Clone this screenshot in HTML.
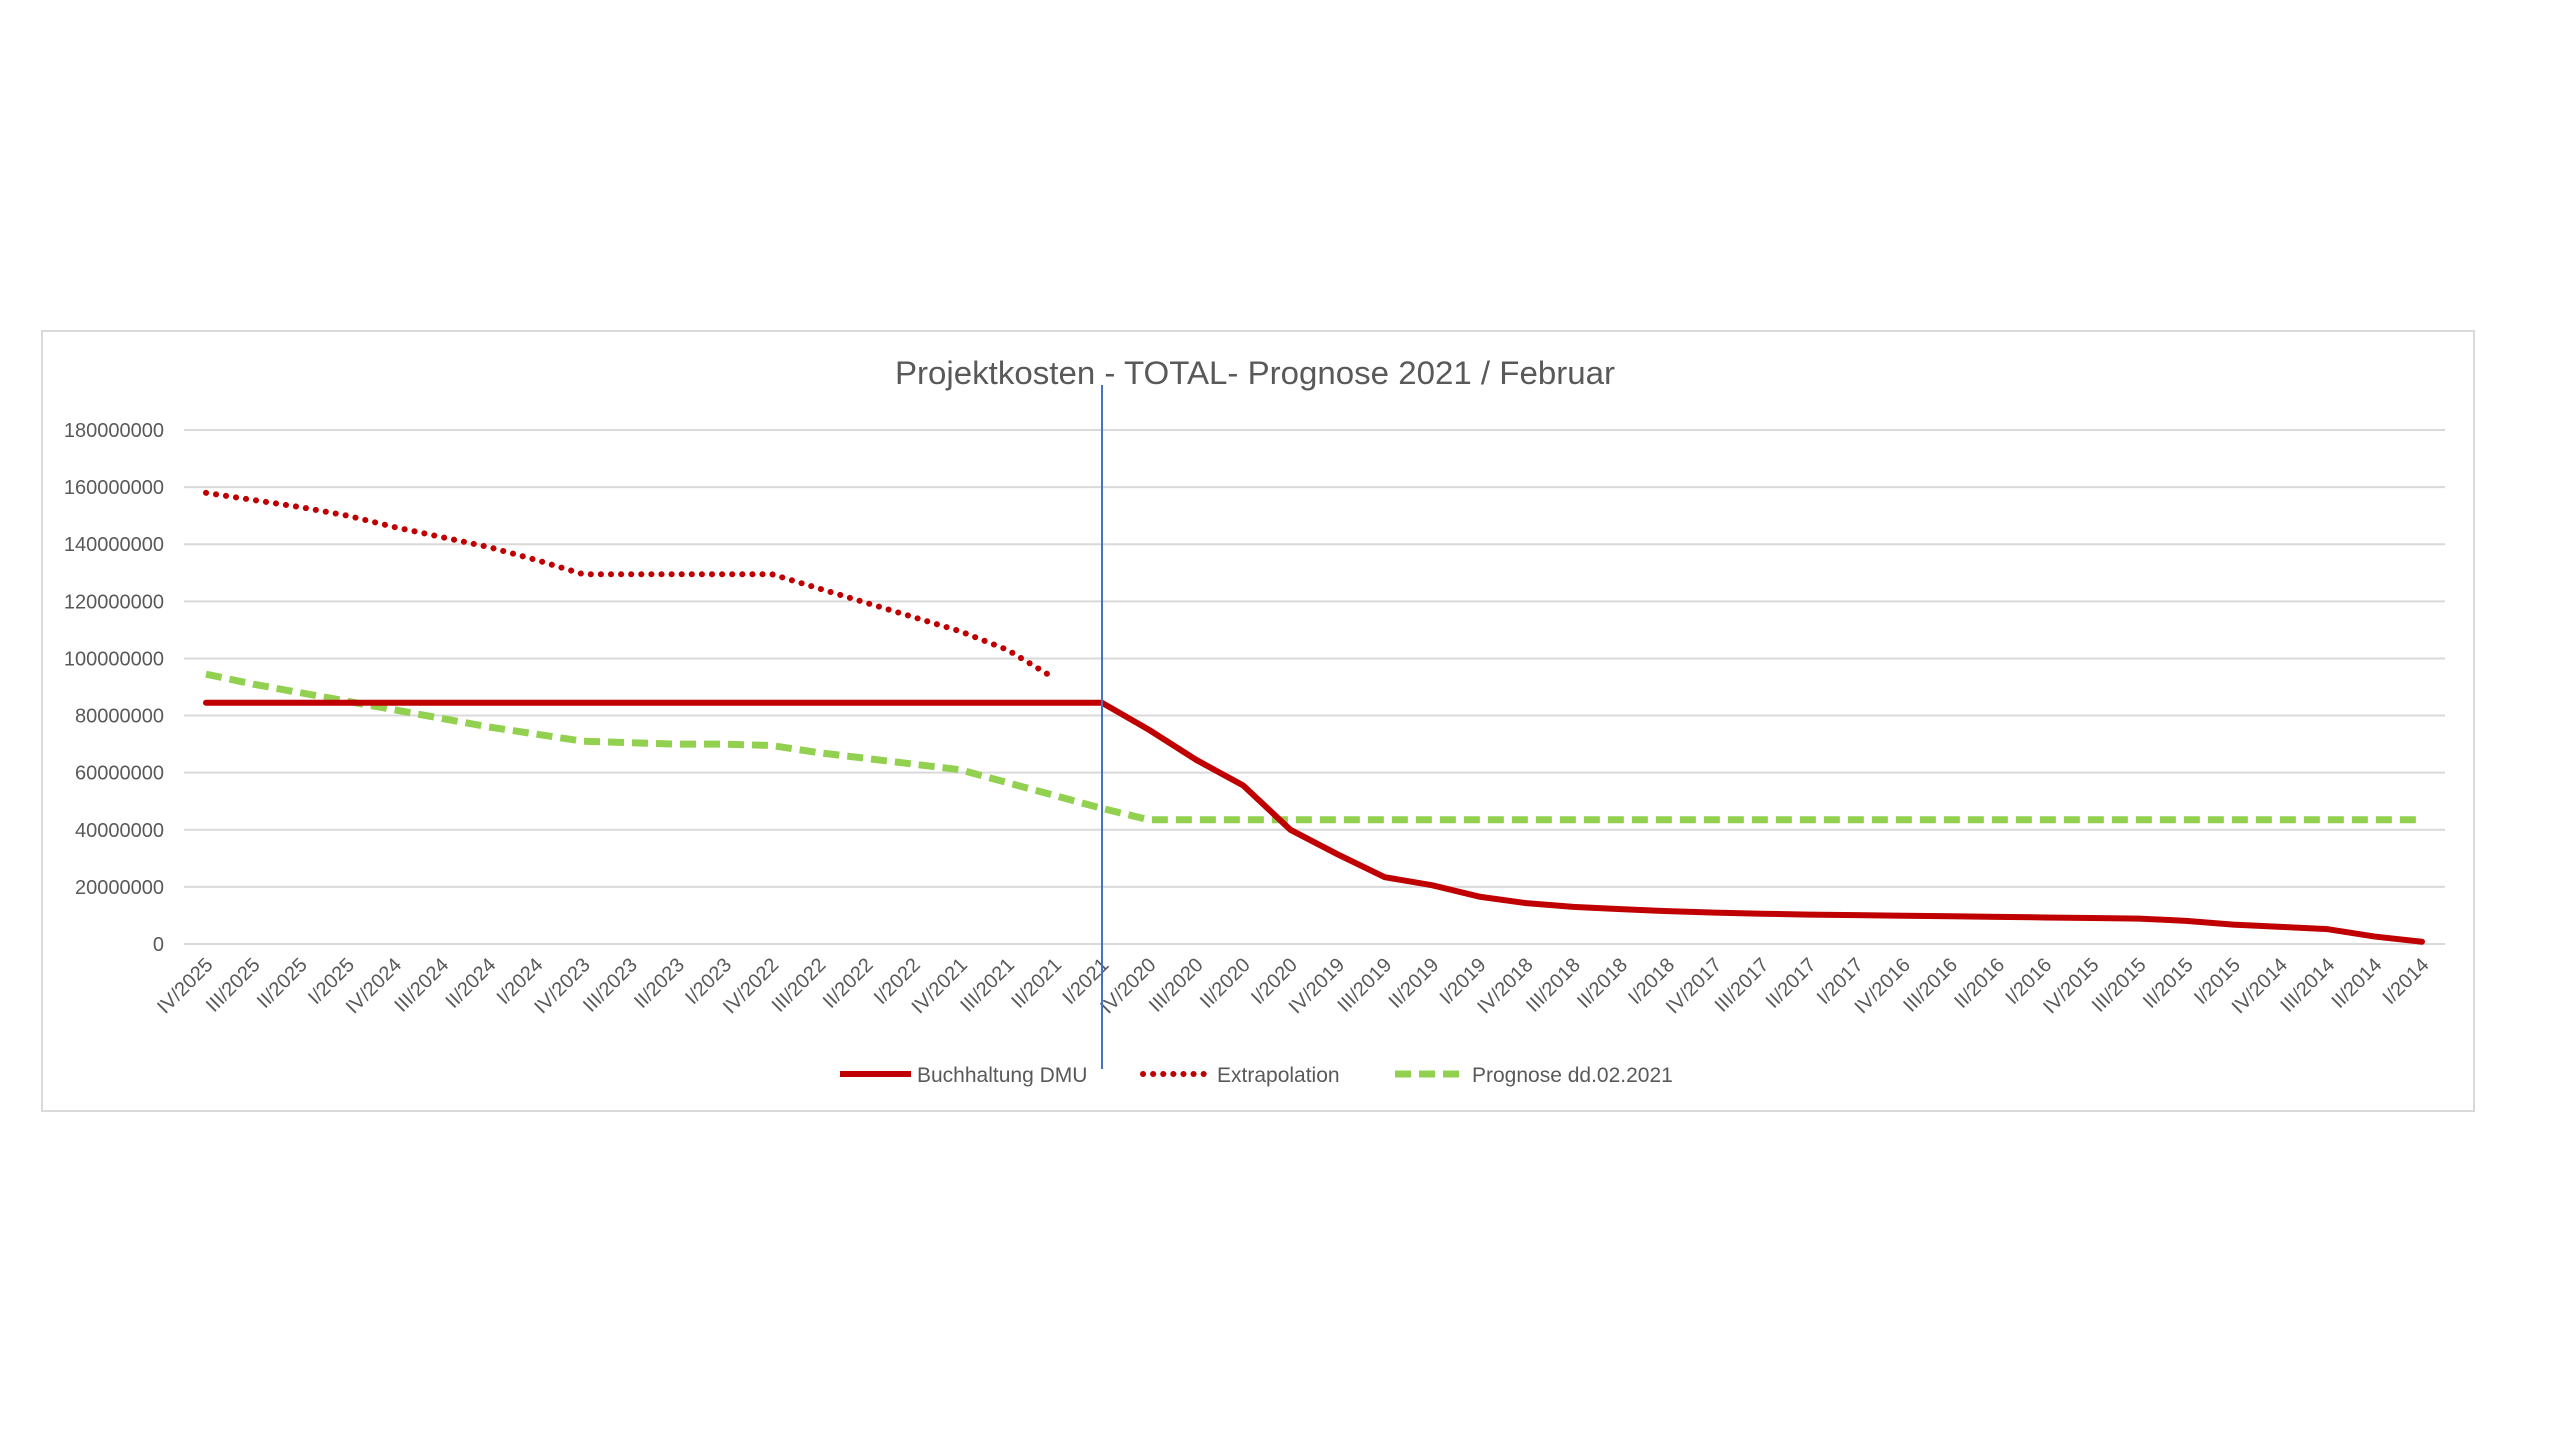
<!DOCTYPE html>
<html><head><meta charset="utf-8"><style>
html,body{margin:0;padding:0;background:#fff;}
svg{display:block;font-family:"Liberation Sans",Arial,sans-serif;}
</style></head><body>
<svg id="chart" width="2560" height="1440" viewBox="0 0 2560 1440" xmlns="http://www.w3.org/2000/svg">
<rect x="42" y="331" width="2432" height="780" fill="#fff" stroke="#d9d9d9" stroke-width="2"/>
<text x="1255" y="384" text-anchor="middle" font-size="32" fill="#595959" textLength="720" lengthAdjust="spacingAndGlyphs">Projektkosten - TOTAL- Prognose 2021 / Februar</text>
<g id="grid"></g><g id="ylabels"></g><g id="xlabels"></g><g id="series"></g>
<line x1="1102" y1="385" x2="1102" y2="1069" stroke="#4472C4" stroke-width="2"/>
<g>
<line x1="840" y1="1074" x2="911" y2="1074" stroke="#C00000" stroke-width="6"/>
<text x="917" y="1082" font-size="21" fill="#595959">Buchhaltung DMU</text>
<line x1="1143" y1="1074" x2="1208" y2="1074" stroke="#C00000" stroke-width="6" stroke-dasharray="0.1 10" stroke-linecap="round"/>
<text x="1217" y="1082" font-size="21" fill="#595959">Extrapolation</text>
<line x1="1395" y1="1074" x2="1461" y2="1074" stroke="#92D050" stroke-width="7" stroke-dasharray="16 8"/>
<text x="1472" y="1082" font-size="21" fill="#595959">Prognose dd.02.2021</text>
</g>
</svg>
<script>
const categories = (function(){var r=[],q=["IV","III","II","I"];for(var y=2025;y>=2014;y--)for(var i=0;i<4;i++)r.push(q[i]+"/"+y);return r;})();
const yTicks = [0,20000000,40000000,60000000,80000000,100000000,120000000,140000000,160000000,180000000];
const buchhaltung = [84.5,84.5,84.5,84.5,84.5,84.5,84.5,84.5,84.5,84.5,84.5,84.5,84.5,84.5,84.5,84.5,84.5,84.5,84.5,84.5,75,64.5,55.5,40,31.4,23.4,20.6,16.6,14.3,13,12.2,11.5,11,10.6,10.3,10.1,9.9,9.7,9.5,9.3,9.1,8.9,8.1,6.8,6,5.2,2.6,0.8];
const extrapolation = [158,155.5,153,150,146,142.5,139,134.5,129.5,129.5,129.5,129.5,129.5,124.5,119.5,114.5,109.5,103,93];
const prognose = [94.5,91,88,85,82,79,76,73.5,71,70.5,70,70,69.5,67,65,63,61,56.5,52,47.5,43.5,43.5,43.5,43.5,43.5,43.5,43.5,43.5,43.5,43.5,43.5,43.5,43.5,43.5,43.5,43.5,43.5,43.5,43.5,43.5,43.5,43.5,43.5,43.5,43.5,43.5,43.5,43.5];
const NS="http://www.w3.org/2000/svg";
function xPos(i){return 206+i*(2422-206)/(categories.length-1);}
function yPos(v){return 944-v/180000000*(944-430);}
function yM(v){return yPos(v*1000000);}
const grid=document.getElementById('grid'),yl=document.getElementById('ylabels'),xl=document.getElementById('xlabels'),se=document.getElementById('series');
yTicks.forEach(function(t){
 var l=document.createElementNS(NS,'line');
 
 
 l.setAttribute('x1',184);l.setAttribute('x2',2445);l.setAttribute('y1',yPos(t));l.setAttribute('y2',yPos(t));
 l.setAttribute('stroke','#d9d9d9');l.setAttribute('stroke-width','2');grid.appendChild(l);
 var tx=document.createElementNS(NS,'text');
 
 
 tx.setAttribute('x',164);tx.setAttribute('y',yPos(t)+7);tx.setAttribute('text-anchor','end');
 tx.setAttribute('font-size','20');tx.setAttribute('fill','#595959');tx.textContent=String(t);yl.appendChild(tx);
});
categories.forEach(function(c,i){
 var tx=document.createElementNS(NS,'text');
 
 
 var x=xPos(i)+8,y=966;
 tx.setAttribute('x',x);tx.setAttribute('y',y);tx.setAttribute('text-anchor','end');
 tx.setAttribute('transform','rotate(-45 '+x+' '+y+')');
 tx.setAttribute('font-size','20');tx.setAttribute('fill','#595959');tx.textContent=c;xl.appendChild(tx);
});
function addLine(vals,name,attrs){
 var p=document.createElementNS(NS,'polyline');
 
 
 p.setAttribute('points',vals.map(function(v,i){return xPos(i)+','+yM(v);}).join(' '));
 p.setAttribute('fill','none');
 for(var k in attrs)p.setAttribute(k,attrs[k]);
 se.appendChild(p);
}
addLine(prognose,'prognose-line',{stroke:'#92D050','stroke-width':'7','stroke-dasharray':'16 8','stroke-linejoin':'round'});
addLine(extrapolation,'extrapolation-line',{stroke:'#C00000','stroke-width':'6','stroke-dasharray':'0.1 10','stroke-linecap':'round'});
addLine(buchhaltung,'buchhaltung-line',{stroke:'#C00000','stroke-width':'6','stroke-linejoin':'round','stroke-linecap':'round'});
</script>
</body></html>
